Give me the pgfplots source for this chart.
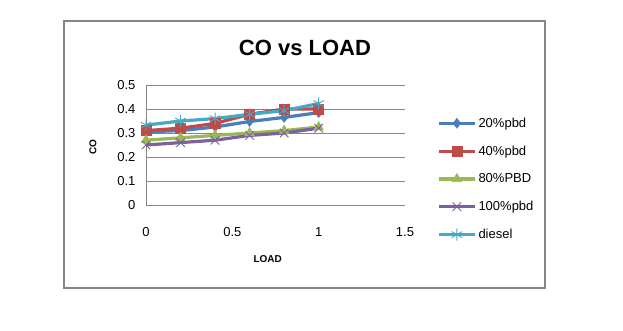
\documentclass[border=0pt]{standalone}
\usepackage{pgfplots}
\pgfplotsset{compat=1.18}
\usepackage{fontspec}
\setmainfont{Liberation Sans}
\definecolor{s1}{HTML}{4A7EBB}
\definecolor{s2}{HTML}{BE4B48}
\definecolor{s3}{HTML}{98B954}
\definecolor{s4}{HTML}{7D60A0}
\definecolor{s5}{HTML}{46AAC5}
\definecolor{gridc}{HTML}{868686}
\begin{document}
\begin{tikzpicture}
\useasboundingbox (0pt,0pt) rectangle (623pt,330pt);
\fill[white] (0pt,0pt) rectangle (623pt,330pt);
\draw[gridc, line width=2pt] (64pt,42pt) rectangle (545pt,309pt);
\node[font=\fontsize{22}{24}\selectfont\bfseries] at (305pt,282pt) {CO vs LOAD};
\begin{axis}[
  at={(146pt,125pt)}, anchor=origin,
  scale only axis, width=259pt, height=120pt,
  xmin=0, xmax=1.5, ymin=0, ymax=0.5,
  xtick={0,0.5,1,1.5}, ytick={0,0.1,0.2,0.3,0.4,0.5},
  axis x line=bottom, axis y line=left,
  axis line style={gridc, line width=0.8pt, -},
  major tick length=0pt,
  ymajorgrids, grid style={gridc, line width=0.8pt},
  tick label style={font=\fontsize{13}{14}\selectfont},
  /pgf/number format/assume math mode=true,
  xticklabel style={yshift=-19pt},
  yticklabel style={xshift=-7pt},
  xlabel={LOAD}, ylabel={CO},
  every axis x label/.style={font=\fontsize{10}{12}\selectfont\bfseries, at={(axis description cs:0.47,0)}, anchor=center, yshift=-54pt},
  every axis y label/.style={font=\fontsize{10}{12}\selectfont\bfseries, at={(axis description cs:0,0.48)}, anchor=center, rotate=90, yshift=53pt},
  legend style={at={(axis description cs:1.124,0.745)}, anchor=north west, draw=none, fill=none,
    font=\fontsize{13}{14}\selectfont, row sep=13pt, inner sep=0pt},
  legend cell align=left,
  legend image code/.code={\draw[#1] (0pt,0pt) -- (18pt,0pt) plot coordinates {(18pt,0pt)} -- (36pt,0pt);},
  every axis plot/.append style={line width=3.2pt},
  clip=false,
]
\addplot[s1, mark=diamond*, mark size=5pt, mark options={line width=0.5pt, fill=s1}] coordinates {(0,0.305)(0.2,0.31)(0.4,0.325)(0.6,0.348)(0.8,0.365)(1,0.385)};
\addlegendentry{20\%pbd}
\addplot[s2, mark=square*, mark size=5pt, mark options={line width=0.5pt, fill=s2}] coordinates {(0,0.31)(0.2,0.32)(0.4,0.34)(0.6,0.378)(0.8,0.40)(1,0.40)};
\addlegendentry{40\%pbd}
\addplot[s3, mark=triangle*, mark size=5.5pt, mark options={line width=0.5pt, fill=s3}] coordinates {(0,0.27)(0.2,0.28)(0.4,0.29)(0.6,0.30)(0.8,0.31)(1,0.325)};
\addlegendentry{80\%PBD}
\addplot[s4, mark=x, mark size=6pt, mark options={line width=0.9pt}] coordinates {(0,0.25)(0.2,0.26)(0.4,0.27)(0.6,0.29)(0.8,0.30)(1,0.32)};
\addlegendentry{100\%pbd}
\addplot[s5, mark=asterisk, mark size=6pt, mark options={line width=0.9pt}] coordinates {(0,0.333)(0.2,0.35)(0.4,0.36)(0.6,0.378)(0.8,0.393)(1,0.423)};
\addlegendentry{diesel}
\end{axis}
\end{tikzpicture}
\end{document}
